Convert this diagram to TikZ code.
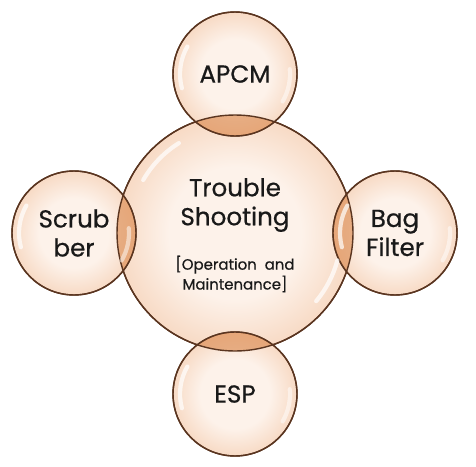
\documentclass[tikz,border=0pt]{standalone}
\usepackage{fontspec}
\setmainfont{Poppins}[FakeBold=0.6]
\definecolor{bubin}{HTML}{FDF2EA}
\definecolor{bubout}{HTML}{EDAE80}
\definecolor{bubedge}{HTML}{5A3520}
\definecolor{lensfill}{HTML}{DA8446}
\pgfdeclareradialshading{bubbleshade}{\pgfpoint{0bp}{0bp}}{color(0bp)=(bubin); color(14bp)=(bubin); color(25bp)=(bubin!65!bubout); color(32bp)=(bubin!28!bubout); color(35.4bp)=(bubout); color(50bp)=(bubout)}
\tikzset{
	bubble/.style={circle, draw=bubedge, line width=0.8pt, shading=bubbleshade, inner sep=0pt, align=center, text=black!90, font=\fontsize{14}{16.5}\selectfont},
	hubbox/.style={bubble, minimum size=4.72cm},
	sidebox/.style={bubble, minimum size=2.48cm},
	edge/.style={draw=bubedge, line width=0.8pt},
	gloss/.style={white, line width=2.4pt, line cap=round, opacity=0.7}
}
\begin{document}
\begin{tikzpicture}[x=0.02cm, y=-0.02cm]
		\useasboundingbox (0,0) rectangle (476,466);
		%hub
		\node[hubbox] (hub) at (235,233) {};
		%APCM - Scrubber - Bag Filter - ESP
		\node[sidebox] (apcm) at (235,74) {APCM};
		\node[sidebox] (scrub) at (74,233) {Scrub\\ber};
		\node[sidebox] (bag) at (395,233) {Bag\\Filter};
		\node[sidebox] (esp) at (235,394) {ESP};
		%overlaps
		\begin{scope}
			\clip (hub.center) circle[radius=2.36cm];
			\foreach \n in {apcm,scrub,bag,esp}
				\fill[lensfill, opacity=0.6] (\n.center) circle[radius=1.24cm];
		\end{scope}
		%outlines on top
		\foreach \n in {apcm,scrub,bag,esp}
			\draw[edge] (\n.center) circle[radius=1.24cm];
		\draw[edge] (hub.center) circle[radius=2.36cm];
		%gloss
		\draw[gloss] (hub.center) ++(150:2.12cm) arc[start angle=150, end angle=122, radius=2.12cm];
		\draw[gloss] (hub.center) ++(-40:2.12cm) arc[start angle=-40, end angle=-15, radius=2.12cm];
		\foreach \n in {apcm,scrub,bag,esp} {
			\draw[gloss] (\n.center) ++(195:1.1cm) arc[start angle=195, end angle=150, radius=1.1cm];
			\draw[gloss, opacity=0.5] (\n.center) ++(-30:1.1cm) arc[start angle=-30, end angle=5, radius=1.1cm];
		}
		%text
		\node[align=center, text=black!90, font=\fontsize{14}{16.5}\selectfont] (title) at (235,205) {Trouble\\Shooting};
		\node[align=center, text=black!90, font=\fontsize{8.5}{11.3}\selectfont] (note) at (235,274) {[Operation~~and\\Maintenance]};
\end{tikzpicture}
\end{document}
